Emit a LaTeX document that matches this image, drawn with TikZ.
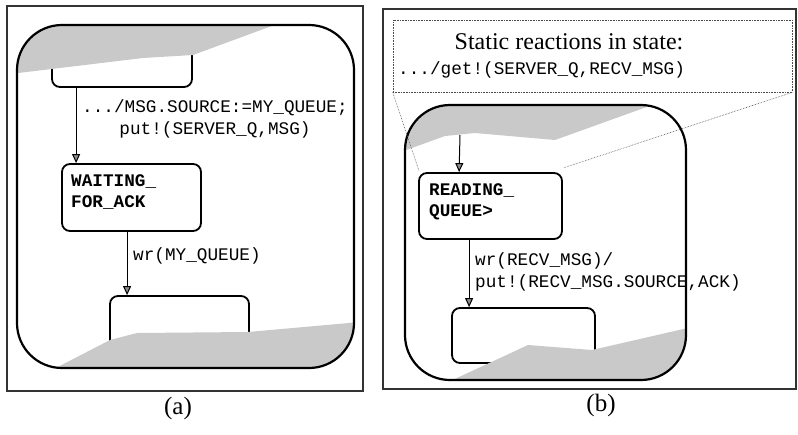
\documentclass[tikz,border=0pt]{standalone}
\usepackage{fontspec}
\setmainfont{Liberation Serif}
\setmonofont{Liberation Mono}
\usetikzlibrary{arrows.meta}
\begin{document}
\begin{tikzpicture}[x=1pt,y=-1pt,
  frame/.style={draw=black!80,line width=1.8pt},
  outerstate/.style={draw=black,line width=2.2pt,rounded corners=45pt},
  statebox/.style={draw=black,line width=1.8pt,rounded corners=8pt,inner sep=0pt},
  shade/.style={fill=black!21},
  arr/.style={draw=black,line width=1pt,-{Triangle[width=8pt,length=9pt,fill=black!45]}},
  mono/.style={font=\ttfamily\fontsize{17.7}{22}\selectfont,inner sep=0pt},
  monob/.style={font=\ttfamily\bfseries\fontsize{17.7}{21}\selectfont,inner sep=0pt,align=left},
  callout/.style={draw=black!70,line width=0.6pt,densely dotted},
  caption/.style={font=\fontsize{25}{27}\selectfont,inner sep=0pt}
]
\useasboundingbox (0,0) rectangle (798,434);

% ---------------- panel (a) ----------------
\draw[frame] (7,6) rectangle (363,391);
\node[statebox,minimum width=140pt,minimum height=50pt] (atop) at (122,62) {};
\node[statebox,minimum width=139pt,minimum height=67pt] (wait) at (131.5,197.5) {};
\node[statebox,minimum width=139pt,minimum height=70pt] (abot) at (179.5,331) {};
\begin{scope}
  \clip[rounded corners=45pt] (17,25) rectangle (354,368);
  \fill[shade] (10,74) -- (143,58) -- (193,55) -- (288,20) -- (10,20) -- cycle;
  \fill[shade] (48,372) -- (110,340) -- (137,333) -- (248,332) -- (360,322) -- (360,375) -- (48,375) -- cycle;
\end{scope}
\draw[outerstate] (17,25) rectangle (354,368);
\node[monob,anchor=west] (waitt) at (71,192) {WAITING\_\\FOR\_ACK};
\draw[arr] ([xshift=25pt]atop.south west) -- ([xshift=15pt]wait.north west);
\draw[arr] ([xshift=66pt]wait.south west) -- ([xshift=18pt]abot.north west);
\node[mono,align=center] (la1) at (215,119) {.../MSG.SOURCE:=MY\_QUEUE;\\put!(SERVER\_Q,MSG)};
\node[mono,anchor=west] (la2) at (133,256) {wr(MY\_QUEUE)};
\node[caption] (capa) at (178,408) {(a)};

% ---------------- panel (b) ----------------
\draw[frame] (383,9) rectangle (796,389);
\node[callout,minimum width=399pt,minimum height=72pt,inner sep=0pt] (co) at (592.5,56) {};
\node[font=\fontsize{24}{26}\selectfont,inner sep=0pt] (cot) at (569,42) {Static reactions in state:};
\node[mono,anchor=west] (com) at (398,70) {.../get!(SERVER\_Q,RECV\_MSG)};
\node[statebox,minimum width=143pt,minimum height=66pt] (read) at (490.5,206) {};
\node[statebox,minimum width=143pt,minimum height=55pt] (bbot) at (523.5,335.5) {};
\begin{scope}
  \clip[rounded corners=45pt] (405,105) rectangle (686,380);
  \fill[shade] (398,153) -- (445,136) -- (475,133) -- (555,140) -- (655,104) -- (660,98) -- (398,98) -- cycle;
  \fill[shade] (444,384) -- (528,345) -- (592,350) -- (692,327) -- (692,386) -- (444,386) -- cycle;
\end{scope}
\draw[outerstate] (405,105) rectangle (686,380);
\node[monob,anchor=west] (readt) at (429,201.5) {READING\_\\QUEUE>};
\coordinate (rin) at (460,135);
\draw[arr] (rin) -- ([xshift=41pt]read.north west);
\draw[arr] ([xshift=51pt]read.south west) -- ([xshift=18pt]bbot.north west);
\node[mono,align=left,anchor=west] (lb) at (475,272) {wr(RECV\_MSG)/\\put!(RECV\_MSG.SOURCE,ACK)};
\draw[callout] (co.south west) -- ([xshift=1pt,yshift=1pt]read.north west);
\draw[callout] (co.south east) -- ([yshift=4pt]read.north east);
\node[caption] (capb) at (601,405) {(b)};
\end{tikzpicture}
\end{document}
